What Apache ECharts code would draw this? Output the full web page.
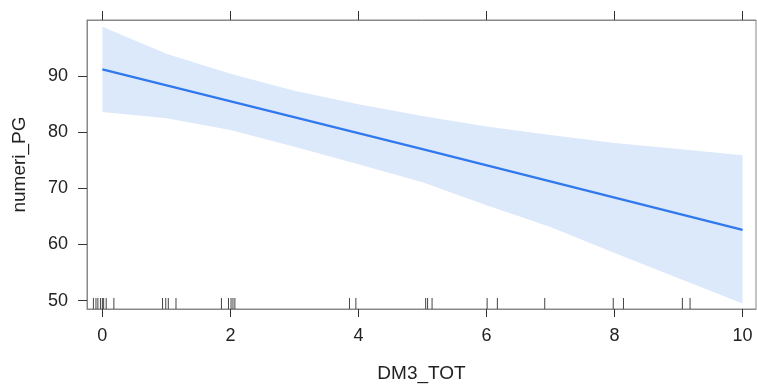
<!DOCTYPE html>
<html>
<head>
<meta charset="utf-8">
<script src="https://cdn.jsdelivr.net/npm/echarts@6/dist/echarts.min.js"></script>
<style>
  html, body { margin: 0; padding: 0; background: #fff; }
  #chart-panel { width: 757px; height: 388px; }
</style>
</head>
<body>
<div id="chart-panel"></div>
<script>
// fitted effect line
var lineX = [0, 5, 10];
var lineY = [91.2, 77.0, 62.6];

// confidence band
var bandX = [0, 1, 2, 3, 4, 5, 6, 7, 8, 9, 10];
var bandUpper = [98.8, 94.0, 90.4, 87.4, 85.0, 82.9, 81.0, 79.5, 78.1, 77.0, 75.9];
var bandLower = [83.6, 82.5, 80.4, 77.4, 74.3, 71.1, 67.0, 63.1, 58.5, 54.0, 49.5];

// rug of observed DM3_TOT values (jittered)
var rugX = [-0.14, -0.1, -0.07, -0.03, 0, 0.02, 0.06, 0.18,
  0.94, 0.99, 1.03, 1.15,
  1.86, 1.97, 2.01, 2.04, 2.07,
  3.86, 3.96,
  5.05, 5.08, 5.15,
  6.01, 6.17, 6.91,
  7.98, 8.14, 9.06, 9.18];

var xTicks = [0, 2, 4, 6, 8, 10];
var yTicks = [50, 60, 70, 80, 90];

var xMin = -0.24, xMax = 10.21;
var yMin = 48.5, yMax = 100;

var chart = echarts.init(document.getElementById('chart-panel'));

var fontFam = 'Liberation Sans, Arial, sans-serif';
var axisColor = '#333';

var option = {
  backgroundColor: '#fff',
  animation: false,
  grid: {
    left: 87,
    top: 20,
    right: 1,
    bottom: 77,
    show: true,
    borderColor: '#888',
    borderWidth: 1
  },
  xAxis: [
    {
      type: 'value',
      min: xMin,
      max: xMax,
      name: 'DM3_TOT',
      nameLocation: 'middle',
      nameGap: 55,
      nameTextStyle: { color: '#222', fontSize: 19, fontFamily: fontFam },
      axisLine: { show: true, onZero: false, lineStyle: { color: '#888' } },
      axisTick: { show: true, length: 8, customValues: xTicks, lineStyle: { color: axisColor } },
      axisLabel: { customValues: xTicks, color: '#222', fontSize: 18, fontFamily: fontFam, margin: 18 },
      splitLine: { show: false }
    },
    {
      type: 'value',
      position: 'top',
      min: xMin,
      max: xMax,
      axisLine: { show: true, onZero: false, lineStyle: { color: '#888' } },
      axisTick: { show: true, length: 9, customValues: xTicks, lineStyle: { color: axisColor } },
      axisLabel: { show: false },
      splitLine: { show: false }
    }
  ],
  yAxis: {
    type: 'value',
    min: yMin,
    max: yMax,
    name: 'numeri_PG',
    nameLocation: 'middle',
    nameGap: 58,
    nameTextStyle: { color: '#222', fontSize: 19, fontFamily: fontFam },
    axisLine: { show: true, onZero: false, lineStyle: { color: '#888' } },
    axisTick: { show: true, length: 9, customValues: yTicks, lineStyle: { color: axisColor } },
    axisLabel: { customValues: yTicks, color: '#222', fontSize: 18, fontFamily: fontFam, margin: 19 },
    splitLine: { show: false }
  },
  series: [
    // band polygon
    {
      type: 'custom',
      silent: true,
      clip: true,
      data: [[0, 0]],
      renderItem: function (params, api) {
        var pts = [];
        for (var i = 0; i < bandX.length; i++) {
          pts.push(api.coord([bandX[i], bandUpper[i]]));
        }
        for (var j = bandX.length - 1; j >= 0; j--) {
          pts.push(api.coord([bandX[j], bandLower[j]]));
        }
        return {
          type: 'polygon',
          shape: { points: pts },
          style: { fill: '#dce9fb' }
        };
      },
      z: 1
    },
    // effect line
    {
      type: 'line',
      data: lineX.map(function (x, i) { return [x, lineY[i]]; }),
      showSymbol: false,
      lineStyle: { color: '#3078ee', width: 2.2 },
      z: 3
    },
    // rug
    {
      type: 'custom',
      silent: true,
      data: rugX.map(function (x) { return [x]; }),
      renderItem: function (params, api) {
        var p = api.coord([api.value(0), yMin]);
        return {
          type: 'line',
          shape: { x1: p[0], y1: p[1], x2: p[0], y2: p[1] - 11 },
          style: { stroke: '#444', lineWidth: 1 }
        };
      },
      z: 2
    }
  ]
};

chart.setOption(option);
</script>
</body>
</html>
